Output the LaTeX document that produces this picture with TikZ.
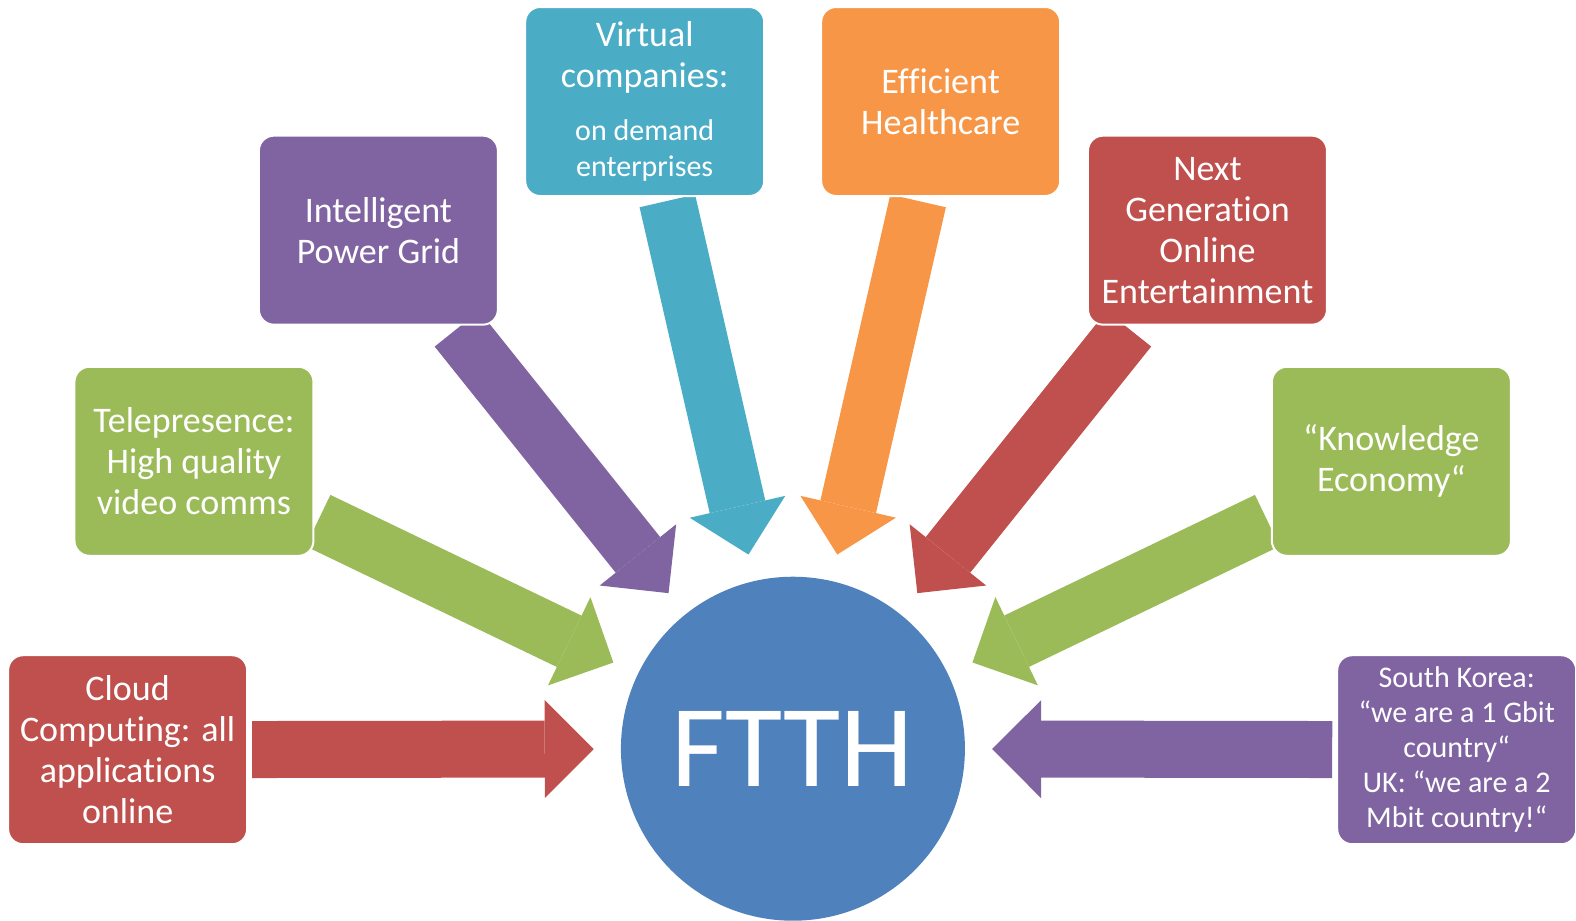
\documentclass[tikz,border=0pt]{standalone}
\usepackage{fontspec}
\setmainfont{Carlito}[Ligatures=NoCommon]
\usepackage{tikz}
\usetikzlibrary{arrows.meta,backgrounds}

\definecolor{ared}{HTML}{C0504D}
\definecolor{agreen}{HTML}{9BBB59}
\definecolor{apurple}{HTML}{8064A2}
\definecolor{aqua}{HTML}{4BACC6}
\definecolor{aorange}{HTML}{F79646}
\definecolor{ablue}{HTML}{4F81BD}

\newcommand{\smalltext}{\fontsize{30}{36}\selectfont}

\tikzset{
    box/.style={rounded corners=15pt, draw=white, line width=2pt, minimum width=239pt,
        minimum height=189pt, text=white, align=center, font=\fontsize{36}{41}\selectfont},
    fatarrow/.style={line width=57pt, -{Triangle[width=98pt,length=49pt,line width=0pt]},
        shorten >=27pt, shorten <=4pt}
}

\begin{document}
\begin{tikzpicture}[x=1.005pt, y=-1.005pt]
    	\useasboundingbox (0, 0) rectangle (1568.2, 916.4);
    	
    	\node[shape=circle,fill=ablue,minimum size=344pt,inner sep=0pt,text=white,
    	      font=\fontsize{117}{120}\selectfont] (ftth) at (789, 745) {FTTH};
    	
    	\node[box,fill=ared]     (cloud)     at (127, 746)   {Cloud\\Computing: all\\applications\\online};
    	\node[box,fill=agreen]   (tele)      at (193, 459)   {Telepresence:\\High quality\\video comms};
    	\node[box,fill=apurple]  (grid)      at (376.5, 229) {Intelligent\\Power Grid};
    	\node[box,fill=aqua]     (virtual)   at (641.5, 101)
    	      {Virtual\\companies:\\[12pt]{\smalltext on demand}\\[-5pt]{\smalltext enterprises}};
    	\node[box,fill=aorange]  (health)    at (936, 101)   {Efficient\\Healthcare};
    	\node[box,fill=ared]     (nextgen)   at (1201.5, 229) {Next\\Generation\\Online\\Entertainment};
    	\node[box,fill=agreen]   (knowledge) at (1384.5, 459) {“Knowledge\\Economy“};
    	\node[box,fill=apurple,font=\fontsize{30}{35}\selectfont] (korea) at (1449.5, 746)
    	      {South Korea:\\“we are a 1 Gbit\\country“\\UK: “we are a 2\\Mbit country!“};
    	
    	\begin{scope}[on background layer]
    	\path[fatarrow, ared]    (cloud)     edge (ftth);
    	\path[fatarrow, agreen]  (tele)      edge (ftth);
    	\path[fatarrow, apurple] (grid)      edge (ftth);
    	\path[fatarrow, aqua]    (virtual)   edge (ftth);
    	\path[fatarrow, aorange] (health)    edge (ftth);
    	\path[fatarrow, ared]    (nextgen)   edge (ftth);
    	\path[fatarrow, agreen]  (knowledge) edge (ftth);
    	\path[fatarrow, apurple] (korea)     edge (ftth);
    	\end{scope}
    	
\end{tikzpicture}
\end{document}
